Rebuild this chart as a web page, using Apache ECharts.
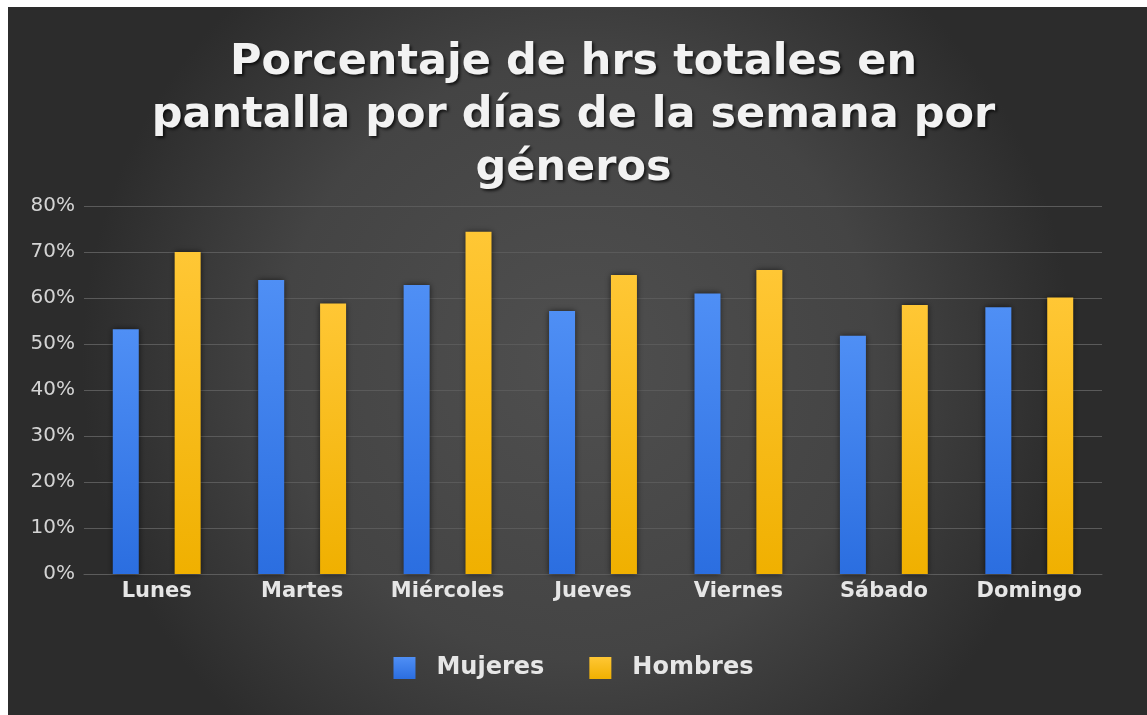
<!DOCTYPE html>
<html>
<head>
<meta charset="utf-8">
<script src="https://cdn.jsdelivr.net/npm/echarts@6/dist/echarts.min.js"></script>
<style>
html,body{margin:0;padding:0;background:#fff;}
#c{width:1147px;height:715px;}
</style>
</head>
<body>
<div id="c"></div>
<script>
const titleText = 'Porcentaje de hrs totales en\npantalla por días de la semana por\ngéneros';
const categories = ['Lunes', 'Martes', 'Miércoles', 'Jueves', 'Viernes', 'Sábado', 'Domingo'];
const seriesNames = ['Mujeres', 'Hombres'];
const mujeres = [53.2, 63.9, 62.8, 57.2, 61.0, 51.8, 58.0];
const hombres = [70.0, 58.8, 74.4, 65.0, 66.1, 58.5, 60.1];
const yMin = 0, yMax = 80, yStep = 10;

const chart = echarts.init(document.getElementById('c'), null, {renderer: 'canvas'});

function vgrad(top, bottom) {
  return new echarts.graphic.LinearGradient(0, 0, 0, 1, [
    {offset: 0, color: top}, {offset: 1, color: bottom}
  ]);
}

const labelFont = 'DejaVu Sans';

chart.setOption({
  backgroundColor: '#ffffff',
  animation: false,
  graphic: {
    elements: [{
      type: 'rect',
      silent: true,
      z: -100,
      shape: {x: 8, y: 7, width: 1139, height: 708},
      style: {
        fill: new echarts.graphic.RadialGradient(0.5, 0.5, 0.7, [
          {offset: 0, color: '#4f4f4f'},
          {offset: 0.6, color: '#444444'},
          {offset: 1, color: '#2c2c2c'}
        ])
      }
    }]
  },
  title: {
    text: titleText,
    left: 'center',
    top: 31,
    textStyle: {
      fontFamily: labelFont,
      fontWeight: 'bold',
      fontSize: 43,
      lineHeight: 53,
      color: '#f2f2f2',
      textShadowColor: 'rgba(0,0,0,0.7)',
      textShadowBlur: 3,
      textShadowOffsetX: 2,
      textShadowOffsetY: 2
    }
  },
  legend: {
    data: seriesNames,
    left: 'center',
    top: 651,
    itemWidth: 22,
    itemHeight: 22,
    itemGap: 45,
    icon: 'rect',
    textStyle: {
      fontFamily: labelFont,
      fontWeight: 'bold',
      fontSize: 24,
      color: '#e6e6e6',
      padding: [0, 0, 0, 16]
    }
  },
  grid: {left: 84, right: 45, top: 206, bottom: 141, containLabel: false},
  xAxis: {
    type: 'category',
    data: categories,
    axisTick: {show: false},
    axisLine: {lineStyle: {color: '#5c5c5c', width: 1}},
    axisLabel: {
      fontFamily: labelFont,
      fontWeight: 'bold',
      fontSize: 21,
      color: '#e6e6e6',
      margin: 7,
      interval: 0
    }
  },
  yAxis: {
    type: 'value',
    min: yMin,
    max: yMax,
    interval: yStep,
    axisLine: {show: false},
    axisTick: {show: false},
    splitLine: {lineStyle: {color: '#5a5a5a', width: 1}},
    axisLabel: {
      formatter: '{value}%',
      fontFamily: labelFont,
      fontSize: 20,
      color: '#d4d4d4',
      margin: 9
    }
  },
  series: [
    {
      name: seriesNames[0],
      type: 'bar',
      data: mujeres,
      barWidth: 26,
      barGap: '138%',
      itemStyle: {
        color: vgrad('#4f8ff5', '#2b6ee0'),
        shadowColor: 'rgba(0,0,0,0.6)',
        shadowBlur: 6
      }
    },
    {
      name: seriesNames[1],
      type: 'bar',
      data: hombres,
      barWidth: 26,
      barGap: '138%',
      itemStyle: {
        color: vgrad('#ffc735', '#f0b000'),
        shadowColor: 'rgba(0,0,0,0.6)',
        shadowBlur: 6
      }
    }
  ]
});
</script>
</body>
</html>
